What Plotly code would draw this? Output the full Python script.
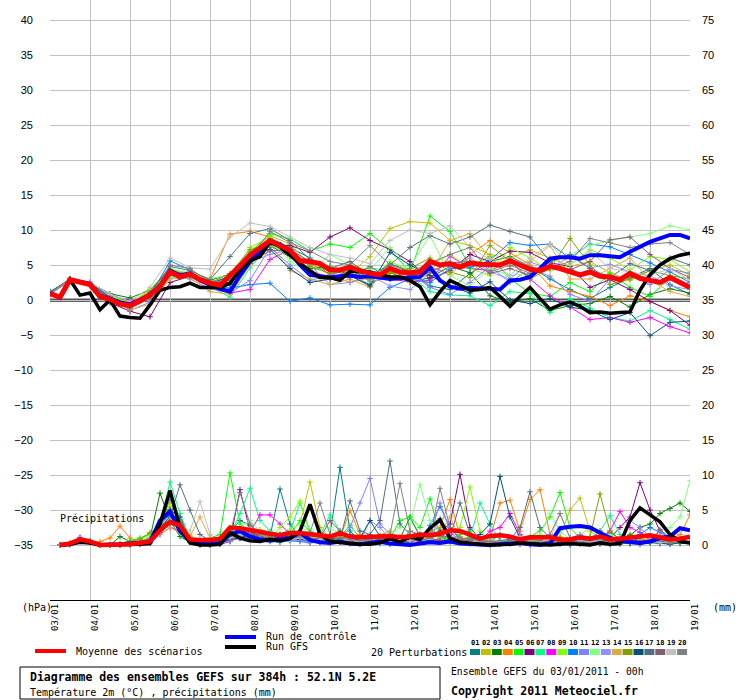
import plotly.graph_objects as go

# pas de temps (heures depuis le 03/01 00h)
hours6 = list(range(0, 385, 6))
hours12 = list(range(0, 385, 12))
hours_precip = hours6[1:]

day_labels = ["03/01", "04/01", "05/01", "06/01", "07/01", "08/01", "09/01", "10/01", "11/01",
              "12/01", "13/01", "14/01", "15/01", "16/01", "17/01", "18/01", "19/01"]

left_ticks = [-35, -30, -25, -20, -15, -10, -5, 0, 5, 10, 15, 20, 25, 30, 35, 40]
right_ticks = [0, 5, 10, 15, 20, 25, 30, 35, 40, 45, 50, 55, 60, 65, 70, 75]

# température 2m (6h)
mean_t = [0.9, 0.4, 2.9, 2.5, 2.2, 0.5, 0.1, -0.6, -0.8, -0.1, 0.7, 1.9, 4.0, 3.3, 3.7, 2.9,
          2.4, 2.1, 3.4, 4.9, 6.4, 7.4, 8.5, 7.8, 7.1, 5.6, 5.5, 5.2, 4.3, 4.3, 4.7, 4.2,
          3.8, 3.6, 4.5, 4.0, 3.9, 4.0, 5.5, 5.0, 5.2, 4.7, 5.3, 5.1, 5.0, 5.0, 5.6, 5.0,
          4.4, 4.2, 4.8, 4.5, 4.0, 3.6, 4.0, 3.4, 3.3, 2.9, 3.8, 3.1, 2.8, 2.5, 3.2, 2.4, 1.8]
ctrl_t = [1.0, 0.3, 2.9, 2.6, 2.3, 0.6, 0.2, -0.4, -0.6, 0.0, 0.8, 2.0, 4.2, 3.5, 3.8, 2.8,
          2.2, 1.6, 1.2, 3.5, 5.5, 7.0, 8.3, 8.0, 6.8, 5.0, 3.6, 3.4, 3.2, 3.4, 3.5, 3.3,
          3.4, 3.2, 3.0, 3.1, 3.2, 3.3, 4.7, 2.8, 1.9, 1.6, 1.7, 1.7, 1.6, 1.5, 2.8, 2.9,
          3.3, 4.5, 5.9, 6.1, 6.1, 5.9, 6.4, 6.4, 6.2, 6.1, 6.9, 7.6, 8.3, 8.8, 9.3, 9.3, 8.8]
gfs_t = [0.95, 0.4, 2.9, 0.7, 1.0, -1.4, 0.0, -2.3, -2.5, -2.6, -0.7, 1.4, 1.8, 1.9, 2.4, 1.8,
         1.8, 1.8, 2.4, 4.3, 5.6, 6.2, 8.3, 7.6, 6.4, 5.2, 4.2, 3.2, 3.2, 2.8, 4.1, 4.1,
         4.0, 3.6, 3.3, 3.3, 2.8, 1.9, -0.7, 1.2, 2.8, 2.1, 1.4, 1.5, 1.8, 0.5, -0.9, 0.5,
         1.8, 0.2, -1.3, -0.7, -0.3, -0.9, -1.8, -1.7, -1.9, -1.8, -1.7, 1.4, 3.6, 5.0, 5.9, 6.4, 6.7]

# perturbations (12h)
t01 = [1.0, 2.9, 2.3, 0.2, -0.9, 0.5, 4.1, 3.8, 2.5, 2.2, 5.8, 8.8, 7.5, 6.0, 3.5, 4.8, 3.0,
       5.2, 4.1, 2.0, 1.5, 3.8, 5.5, 6.2, 4.8, 3.0, 1.5, 0.2, 1.8, 3.2, 4.5, 2.2, 0.8]
t02 = [0.9, 2.8, 2.1, 0.0, -1.0, 0.8, 3.8, 3.5, 2.2, 3.0, 6.9, 9.2, 8.0, 5.0, 4.4, 3.8, 6.2,
       10.2, 11.2, 11.0, 8.5, 7.8, 6.5, 5.9, 7.2, 6.0, 4.8, 5.5, 3.9, 2.8, 4.2, 5.0, 3.5]
t03 = [1.1, 2.9, 2.4, 0.9, 0.3, 1.4, 4.4, 3.6, 2.8, 3.7, 6.0, 7.8, 6.2, 4.5, 4.8, 3.5, 2.2,
       4.0, 2.5, 3.2, 4.8, 3.9, 0.6, -0.3, 0.2, -1.5, -0.8, -0.5, 0.5, -1.0, 0.8, 1.6, 1.0]
t04 = [0.9, 3.0, 2.2, 0.3, -0.3, 1.2, 4.0, 3.9, 3.0, 9.4, 9.8, 9.0, 6.5, 5.2, 3.6, 2.5, 3.2,
       4.0, 3.2, 4.8, 3.6, 6.5, 8.5, 6.8, 5.0, 2.0, 1.2, 0.5, -0.8, 0.6, -0.2, -1.5, -2.4]
t05 = [1.0, 2.8, 2.4, 0.5, -0.4, 1.0, 3.8, 3.3, 2.0, 2.8, 6.8, 9.5, 8.7, 7.0, 8.0, 7.5, 9.5,
       7.2, 4.0, 12.0, 9.8, 4.8, 6.2, 3.0, 1.0, 0.5, 2.5, 1.2, 3.8, 1.8, 0.5, 3.2, 1.5]
t06 = [0.8, 2.9, 2.2, -0.4, -1.6, -2.4, 2.5, 3.4, 2.3, 2.5, 5.2, 7.8, 7.8, 6.8, 9.0, 10.3, 8.5,
       7.2, 5.5, 3.0, 4.2, 6.5, 5.5, 7.0, 6.8, 5.3, 4.8, 1.8, 2.9, 1.5, -0.2, -1.5, -3.6]
t07 = [1.0, 3.0, 2.0, 0.0, -0.9, 0.2, 3.2, 3.6, 1.9, 0.4, 4.6, 8.0, 6.5, 4.2, 4.8, 3.8, 4.5,
       4.3, 3.5, 1.2, 0.7, 0.6, -0.8, 1.2, 0.9, -1.8, 0.2, -1.2, -2.5, -3.0, -1.5, -2.8, -4.2]
t08 = [0.9, 2.7, 2.5, 0.8, -0.2, 0.8, 3.8, 3.6, 2.5, 1.0, 1.5, 5.8, 7.2, 4.2, 3.2, 4.0, 3.7,
       3.0, 2.6, 2.8, 6.3, 4.5, 4.2, 5.5, 3.0, 0.6, -1.0, -2.8, -2.5, -3.2, -2.5, -3.8, -4.7]
t09 = [1.2, 2.9, 2.3, 0.7, -0.5, 1.5, 4.5, 3.7, 2.7, 3.0, 7.5, 9.0, 6.2, 5.7, 4.0, 4.5, 2.8,
       5.5, 4.2, 5.0, 6.5, 4.5, 3.5, 7.5, 6.0, 4.2, 5.0, 7.2, 6.0, 4.3, 6.2, 5.8, 4.0]
t10 = [1.2, 2.9, 2.2, 0.2, -0.7, 0.5, 5.6, 4.3, 2.0, 1.7, 2.2, 2.4, -0.2, 0.3, -0.7, -0.6, -0.7,
       1.8, 3.0, 2.5, 4.5, 4.6, 5.7, 8.2, 7.8, 8.0, 6.0, 8.0, 7.6, 6.5, 5.3, 4.0, 2.5]
t11 = [1.0, 3.0, 2.3, 0.4, -1.5, -0.3, 3.5, 3.0, 1.6, 1.0, 2.8, 7.5, 5.0, 2.8, 3.5, 4.5, 2.6,
       3.2, 3.8, 1.8, 0.8, 2.5, 4.8, 2.5, 4.5, 3.4, 0.8, -0.2, 3.0, 3.6, 2.2, 4.4, 3.8]
t12 = [0.9, 2.8, 2.0, 0.6, -1.2, 0.3, 4.2, 4.0, 3.1, 3.5, 6.0, 8.5, 5.5, 4.0, 6.5, 5.0, 4.3,
       7.5, 4.8, 9.2, 3.5, 2.0, 4.5, 3.5, 3.8, 5.5, 6.5, 7.8, 8.5, 9.0, 9.5, 10.6, 10.0]
t13 = [1.0, 2.9, 2.6, 0.5, -0.8, 0.6, 3.6, 3.9, 2.6, 3.2, 5.4, 6.5, 7.2, 5.0, 2.2, 2.5, 3.5,
       2.0, 1.5, 3.8, 4.6, 6.0, 4.0, 3.0, 5.4, 4.5, 6.2, 4.6, 5.1, 4.0, 3.5, 2.0, 1.5]
t14 = [0.8, 2.8, 2.2, 0.0, -1.4, -0.6, 3.0, 3.2, 1.2, 0.8, 5.0, 8.0, 4.2, 3.0, 2.2, 3.0, 1.8,
       4.8, 2.5, 3.8, 8.5, 9.5, 6.0, 4.8, 5.5, 7.8, 3.0, 3.0, 4.5, 6.0, 2.8, 1.2, 0.5]
t15 = [1.0, 2.9, 2.3, 0.3, -1.0, 0.9, 4.3, 3.4, 2.4, 3.8, 7.2, 8.0, 7.0, 4.8, 3.8, 4.2, 3.0,
       3.8, 4.5, 6.0, 4.0, 3.2, 7.8, 5.5, 3.0, 4.5, 8.8, 5.0, 2.2, 3.0, 4.2, 3.5, 3.0]
t16 = [1.1, 3.0, 2.4, 0.4, -0.6, 0.7, 3.9, 3.5, 2.2, 3.5, 6.5, 7.2, 4.5, 2.5, 3.0, 3.5, 2.0,
       6.8, 5.0, 3.5, 2.0, 1.0, 2.6, 0.0, -0.5, 0.2, -1.0, -1.5, -2.8, -1.8, -5.1, -3.2, -3.0]
t17 = [1.0, 2.9, 2.2, 0.2, -0.9, 1.1, 4.8, 4.2, 2.9, 6.2, 9.5, 10.2, 8.5, 5.8, 4.5, 5.5, 3.5,
       5.0, 7.5, 9.2, 8.0, 9.0, 10.7, 9.8, 9.0, 5.5, 6.5, 4.5, 3.2, 5.2, 4.2, 6.0, 5.0]
t18 = [0.9, 2.8, 2.1, 0.1, -1.1, 0.4, 3.9, 3.7, 2.6, 2.4, 5.6, 7.0, 7.2, 5.5, 4.6, 3.2, 4.8,
       3.0, 3.5, 4.0, 5.3, 5.5, 3.8, 4.5, 3.5, 4.8, 4.3, 5.5, 8.6, 9.0, 6.5, 4.5, 3.2]
t19 = [1.0, 2.9, 2.5, 0.8, -0.2, 1.8, 6.0, 4.6, 4.4, 9.0, 11.0, 10.5, 9.0, 7.5, 6.5, 6.0, 5.2,
       8.5, 10.0, 9.5, 10.6, 7.5, 5.8, 3.5, 6.0, 8.0, 5.0, 7.0, 4.5, 4.0, 3.5, 4.5, 2.8]
t20 = [1.0, 3.0, 2.3, 0.3, -1.2, 0.2, 5.0, 4.5, 2.5, 2.8, 6.0, 9.8, 8.2, 7.0, 5.5, 5.0, 7.8,
       5.0, 4.0, 5.2, 6.5, 7.5, 4.0, 5.0, 3.8, 4.5, 5.5, 8.8, 8.2, 7.5, 8.0, 8.2, 6.5]

# précipitations (mm, 6h, de 6h à 384h)
mean_p = [0.0, 0.2, 0.8, 0.5, 0.0, 0.0, 0.1, 0.1, 0.3, 0.5, 2.1, 3.3, 2.8, 0.8, 0.7, 0.7,
          0.9, 2.5, 2.4, 2.1, 1.9, 1.6, 1.4, 1.7, 1.7, 1.5, 1.4, 1.2, 1.7, 1.2, 1.1, 1.2,
          1.3, 1.3, 1.1, 1.2, 1.5, 1.4, 1.6, 2.1, 2.0, 1.4, 0.9, 1.3, 1.4, 1.2, 0.8, 1.1,
          1.1, 1.1, 0.8, 0.8, 1.1, 0.9, 1.2, 0.8, 0.9, 1.1, 1.3, 1.4, 1.1, 0.8, 0.9, 1.2]
ctrl_p = [0.0, 0.1, 0.6, 0.4, 0.0, 0.0, 0.1, 0.2, 0.3, 0.4, 3.5, 4.8, 2.0, 0.5, 0.2, 0.1,
          0.3, 1.5, 2.0, 1.2, 0.8, 0.6, 0.9, 1.0, 1.8, 0.7, 0.4, 0.3, 0.5, 0.2, 0.1, 0.3,
          0.5, 0.2, 0.1, 0.0, 0.2, 0.4, 0.3, 0.5, 0.2, 0.1, 0.0, 0.0, 0.1, 0.2, 0.3, 0.1,
          0.0, 0.2, 2.4, 2.6, 2.7, 2.5, 1.8, 1.0, 0.6, 0.4, 0.3, 0.5, 1.0, 1.2, 2.4, 2.1]
gfs_p = [0.0, 0.1, 0.4, 0.3, 0.0, 0.0, 0.0, 0.1, 0.1, 0.2, 3.0, 7.8, 2.5, 0.3, 0.0, 0.0,
         0.1, 1.8, 1.0, 0.6, 0.5, 0.8, 0.6, 0.9, 2.0, 5.8, 1.5, 0.5, 0.3, 0.2, 0.1, 0.1,
         0.3, 0.9, 0.4, 1.2, 0.8, 2.4, 3.6, 1.0, 0.4, 0.2, 0.1, 0.0, 0.0, 0.1, 0.3, 0.2,
         0.0, 0.0, 0.1, 0.2, 0.1, 0.0, 0.3, 0.1, 0.2, 3.5, 5.3, 4.3, 3.3, 1.5, 0.5, 0.3]

p01 = [0, 0.2, 0.9, 0.6, 0, 0, 0, 0.1, 0.2, 0.5, 2.5, 4.0, 3.2, 0.6, 0.3, 0.4,
       0.5, 2.0, 3.5, 2.8, 1.5, 1.2, 8.0, 3.0, 1.0, 1.2, 0.8, 1.5, 11.1, 2.0, 0.6, 0.8,
       1.2, 0.8, 0.5, 0.3, 1.0, 2.0, 1.2, 0.6, 0.4, 0.2, 0.3, 0.5, 1.5, 0.8, 0.4, 0.2,
       0.5, 0.8, 0.3, 0.2, 0.6, 0.4, 0.9, 0.2, 0.1, 0.5, 1.0, 0.4, 0.2, 0.3, 0.8, 0.5]
p02 = [0, 0.1, 0.7, 0.4, 0, 0, 0.1, 0.3, 0.8, 1.5, 3.0, 5.5, 2.0, 0.5, 0.2, 0.3,
       0.6, 1.8, 2.5, 2.0, 1.4, 1.0, 1.5, 2.2, 3.0, 9.0, 2.5, 1.0, 0.8, 0.5, 0.4, 0.9,
       1.5, 2.0, 0.8, 0.6, 0.5, 1.8, 0.9, 0.4, 0.8, 1.2, 0.6, 0.2, 0.4, 0.3, 0.8, 1.0,
       0.6, 0.4, 1.2, 5.0, 6.7, 2.0, 1.0, 0.6, 0.3, 1.5, 1.0, 0.5, 0.8, 0.4, 0.2, 0.5]
p03 = [0, 0.2, 0.8, 0.5, 0.1, 0, 1.2, 0.5, 0.6, 1.0, 7.4, 3.5, 1.2, 0.4, 0.1, 0.1,
       0.3, 1.2, 2.0, 1.8, 1.0, 0.9, 1.1, 2.0, 1.5, 1.0, 1.8, 0.6, 0.8, 1.4, 0.6, 0.4,
       0.5, 0.3, 0.9, 4.0, 1.2, 2.2, 1.5, 0.8, 0.6, 1.0, 0.4, 0.8, 0.5, 0.2, 0.6, 0.3,
       0.2, 0.4, 0.6, 0.3, 0.8, 0.5, 1.2, 1.8, 0.9, 1.4, 2.5, 3.0, 4.5, 5.2, 6.0, 4.8]
p04 = [0, 0.1, 0.6, 0.3, 0.5, 1.0, 2.7, 1.0, 0.4, 0.6, 1.8, 3.2, 2.4, 0.6, 0.3, 0.2,
       0.2, 0.8, 1.5, 2.5, 2.2, 1.8, 1.4, 1.2, 1.6, 1.0, 1.5, 1.2, 1.0, 4.9, 1.5, 0.6,
       0.4, 0.8, 1.2, 0.6, 1.5, 2.0, 2.5, 6.5, 1.2, 0.5, 0.3, 0.9, 6.0, 6.4, 2.0, 6.5,
       7.9, 1.5, 0.5, 0.3, 0.6, 0.2, 0.5, 0.4, 0.8, 0.3, 0.6, 1.0, 0.5, 0.8, 1.5, 4.3]
p05 = [0, 0.2, 1.0, 0.6, 0, 0, 0.2, 0.6, 1.0, 1.6, 2.0, 4.5, 2.8, 0.8, 0.5, 1.0,
       1.5, 10.3, 3.0, 2.0, 1.5, 1.2, 1.0, 1.5, 3.5, 1.8, 1.0, 0.6, 1.2, 2.8, 1.0, 0.4,
       0.6, 1.0, 3.5, 4.0, 2.5, 6.6, 1.5, 0.8, 1.5, 2.0, 0.5, 0.3, 0.4, 0.6, 0.8, 1.2,
       2.0, 4.0, 7.5, 2.5, 1.0, 0.5, 0.3, 0.6, 0.4, 0.2, 0.5, 0.3, 0.4, 0.8, 0.5, 0.6]
p06 = [0, 0.1, 0.8, 0.5, 0, 0, 0, 0.2, 0.3, 0.5, 2.8, 4.5, 3.5, 0.5, 0, 0,
       0.1, 0.5, 7.9, 2.0, 1.2, 0.8, 0.6, 1.0, 0.8, 0.5, 0.4, 0.3, 0.5, 0.2, 0.1, 0.3,
       0.5, 0.8, 1.0, 0.6, 1.2, 1.5, 2.0, 3.0, 10.1, 2.5, 0.8, 0.4, 0.6, 0.3, 0.2, 0.4,
       0.3, 0.5, 0.8, 0.4, 0.6, 0.3, 0.2, 1.0, 2.5, 4.0, 8.9, 5.0, 2.0, 0.8, 0.4, 0.3]
p07 = [0, 0.2, 0.9, 0.6, 0, 0, 0, 0.1, 0.2, 0.4, 3.0, 9.0, 4.5, 1.0, 0.2, 0.1,
       0.3, 1.5, 4.5, 8.1, 3.5, 2.0, 1.5, 1.8, 6.0, 2.0, 1.4, 4.3, 2.0, 1.0, 0.8, 0.5,
       0.6, 0.4, 0.8, 1.5, 0.6, 0.8, 0.5, 0.6, 0.4, 1.0, 6.0, 3.0, 0.5, 0.8, 0.4, 0.3,
       0.5, 0.6, 0.4, 0.8, 0.5, 1.0, 2.0, 4.2, 1.5, 0.8, 0.4, 0.3, 0.6, 0.4, 0.2, 0.5]
p08 = [0, 0.2, 1.1, 0.6, 0, 0, 0, 0.1, 0.1, 0.3, 1.5, 2.5, 2.0, 0.6, 0.2, 0.1,
       0.2, 0.6, 1.0, 1.8, 4.3, 4.3, 3.0, 1.5, 1.0, 0.8, 0.6, 0.5, 0.4, 0.6, 0.3, 0.5,
       0.4, 0.3, 0.6, 0.8, 0.5, 0.6, 0.9, 1.5, 0.6, 0.8, 0.5, 2.0, 2.5, 4.5, 1.5, 0.5,
       0.2, 0.6, 0.4, 0.3, 0.8, 0.5, 0.6, 2.0, 4.8, 2.5, 1.8, 1.0, 0.5, 0.4, 0.6, 0.3]
p09 = [0, 0.1, 0.7, 0.4, 0, 0, 0, 0.3, 0.5, 1.0, 2.2, 6.0, 3.0, 1.5, 0.5, 0.3,
       0.5, 2.5, 1.8, 1.5, 1.2, 1.0, 2.5, 4.0, 6.3, 1.5, 0.8, 1.0, 0.6, 0.5, 0.8, 0.4,
       0.3, 0.6, 0.8, 1.2, 0.8, 1.6, 1.0, 0.5, 2.5, 8.3, 2.0, 0.8, 0.4, 0.3, 0.5, 0.6,
       0.8, 1.2, 0.6, 0.4, 1.5, 2.5, 1.8, 0.8, 0.5, 0.3, 0.4, 0.6, 0.3, 0.5, 0.8, 1.0]
p10 = [0, 0.2, 1.0, 0.5, 0, 0, 0, 0, 0.1, 0.3, 2.2, 4.0, 2.5, 0.8, 0.6, 0.3,
       0.2, 0.8, 1.5, 1.2, 0.8, 0.5, 0.4, 0.6, 0.5, 0.3, 1.0, 0.6, 0.5, 1.5, 0.6, 0.3,
       0.2, 0.1, 0.3, 0.5, 0.8, 2.8, 5.5, 2.5, 0.8, 0.2, 0.1, 0.0, 0.1, 0.2, 0.1, 0.0,
       0.1, 0.3, 0.1, 0.0, 0.1, 0.2, 0.5, 1.0, 0.6, 0.3, 1.5, 2.5, 1.8, 0.8, 0.3, 0.5]
p11 = [0, 0.1, 0.6, 0.4, 0, 0, 0, 0.1, 0.2, 0.5, 2.5, 4.8, 2.2, 0.5, 0.3, 0.2,
       0.4, 0.6, 0.9, 1.4, 1.0, 0.8, 0.5, 0.7, 0.6, 0.4, 0.9, 1.2, 0.8, 2.5, 6.0, 9.5,
       3.0, 1.5, 1.0, 0.6, 0.8, 1.2, 6.0, 2.0, 0.6, 0.4, 0.3, 0.5, 0.2, 0.4, 0.2, 0.1,
       0.3, 0.5, 0.6, 1.0, 1.5, 0.8, 1.2, 0.5, 0.8, 3.5, 2.5, 1.2, 0.6, 0.8, 0.5, 0.3]
p12 = [0, 0.2, 0.8, 0.5, 0, 0.1, 0.2, 0.3, 0.6, 1.2, 2.0, 3.8, 3.0, 1.0, 0.5, 0.6,
       0.8, 1.5, 2.5, 3.5, 2.0, 1.5, 1.2, 2.2, 3.0, 1.2, 1.0, 2.5, 1.5, 0.6, 1.0, 0.5,
       0.8, 1.5, 2.5, 3.0, 8.6, 3.5, 1.5, 1.0, 0.8, 0.6, 0.5, 1.0, 0.4, 0.3, 0.6, 0.8,
       1.5, 4.5, 2.0, 0.8, 0.5, 0.4, 0.6, 1.5, 0.8, 0.5, 0.3, 0.8, 1.0, 2.5, 4.0, 9.2]
p13 = [0, 0.1, 0.9, 0.5, 0, 0, 0, 0.1, 0.2, 0.4, 1.5, 3.2, 2.8, 0.8, 0.3, 0.2,
       0.3, 0.5, 1.2, 1.0, 0.8, 0.6, 0.6, 0.8, 0.7, 0.5, 0.6, 0.5, 0.4, 0.8, 0.5, 3.5,
       2.5, 0.8, 0.5, 1.5, 0.8, 1.0, 3.8, 1.2, 0.5, 0.3, 0.2, 0.4, 0.3, 0.2, 0.5, 0.3,
       0.2, 0.4, 0.3, 0.5, 0.6, 0.8, 0.5, 0.3, 1.2, 0.8, 0.5, 0.6, 2.0, 0.8, 0.5, 0.4]
p14 = [0, 0.1, 0.5, 0.3, 0, 0, 0.2, 0.4, 0.6, 0.9, 1.5, 2.5, 1.8, 1.2, 4.0, 1.0,
       0.4, 0.9, 1.2, 2.5, 1.5, 1.2, 1.0, 0.8, 1.0, 0.6, 0.5, 0.8, 1.2, 0.6, 0.4, 0.3,
       0.5, 0.8, 0.6, 2.0, 1.2, 0.9, 1.5, 4.0, 1.0, 0.6, 0.4, 0.3, 0.5, 0.4, 0.3, 0.5,
       0.8, 0.6, 0.4, 0.3, 0.5, 0.6, 0.4, 0.5, 0.3, 0.6, 0.5, 0.8, 0.4, 0.3, 0.6, 0.4]
p15 = [0, 0.2, 0.8, 0.5, 0, 0, 0.1, 0.5, 0.8, 1.8, 2.5, 3.5, 2.2, 0.6, 0.3, 0.4,
       0.6, 1.2, 2.0, 2.2, 1.6, 1.4, 1.0, 1.2, 1.5, 0.8, 0.6, 0.9, 1.0, 1.2, 0.5, 0.6,
       0.8, 0.5, 0.6, 1.0, 1.5, 0.8, 0.6, 0.8, 0.5, 0.4, 0.6, 0.8, 0.5, 0.3, 0.4, 0.6,
       0.5, 0.8, 1.0, 0.6, 0.5, 1.2, 7.3, 2.0, 0.8, 0.5, 0.6, 0.4, 0.3, 0.5, 0.6, 0.4]
p16 = [0, 0.1, 0.7, 0.4, 0, 0, 0, 0.2, 0.3, 0.6, 3.0, 5.0, 4.0, 0.8, 0.4, 0.2,
       0.3, 0.8, 1.0, 1.5, 1.2, 0.9, 1.5, 1.0, 0.8, 0.6, 0.5, 0.8, 0.6, 0.4, 1.0, 3.5,
       1.2, 0.6, 0.4, 0.8, 1.0, 0.6, 0.5, 0.8, 0.4, 0.6, 1.5, 3.0, 9.8, 4.0, 1.0, 0.5,
       0.3, 0.2, 0.4, 0.2, 0.3, 0.5, 0.2, 0.1, 0.3, 0.2, 0.1, 0.4, 0.2, 0.1, 0.3, 0.2]
p17 = [0, 0.2, 0.9, 0.6, 0, 0, 0, 0.2, 0.4, 0.8, 2.5, 4.0, 8.6, 5.0, 1.5, 0.6,
       0.5, 1.0, 2.0, 1.8, 1.2, 1.0, 0.8, 1.2, 1.0, 0.8, 0.6, 1.0, 0.8, 6.3, 2.0, 1.5,
       3.5, 12.0, 3.0, 1.5, 0.8, 1.0, 1.5, 1.0, 6.0, 1.5, 0.8, 0.5, 0.6, 0.8, 2.5, 7.6,
       2.5, 1.0, 0.5, 0.4, 0.6, 0.3, 0.5, 0.8, 0.4, 0.6, 0.5, 0.3, 0.4, 0.6, 0.8, 0.5]
p18 = [0, 0.1, 0.8, 0.5, 0, 0, 0, 0.1, 0.3, 0.6, 1.8, 3.0, 2.5, 0.8, 0.3, 0.2,
       0.4, 0.9, 1.5, 1.6, 1.2, 1.0, 0.8, 1.0, 1.2, 0.8, 1.0, 3.5, 2.0, 0.8, 0.6, 1.0,
       0.8, 1.2, 0.6, 0.5, 0.8, 1.0, 0.6, 0.5, 0.8, 0.6, 0.4, 0.5, 0.3, 0.6, 0.4, 0.8,
       0.6, 0.4, 0.8, 0.5, 0.6, 0.4, 0.3, 0.5, 0.8, 1.2, 0.6, 0.4, 2.2, 1.0, 0.5, 0.4]
p19 = [0, 0.2, 0.9, 0.7, 0, 0, 0, 0.2, 0.4, 0.8, 2.0, 3.5, 3.0, 2.0, 6.2, 1.5,
       0.5, 1.0, 1.5, 2.0, 1.5, 1.2, 1.0, 0.8, 1.0, 0.6, 0.8, 0.5, 0.6, 0.8, 0.5, 0.4,
       0.6, 0.5, 0.8, 0.6, 1.0, 0.8, 3.5, 1.2, 0.5, 0.4, 0.6, 0.8, 0.5, 0.4, 1.2, 0.6,
       0.5, 0.8, 4.5, 1.0, 0.6, 0.5, 0.4, 0.3, 0.6, 0.5, 0.4, 0.6, 0.3, 0.5, 0.4, 0.6]
p20 = [0, 0.1, 0.8, 0.5, 0, 0, 0, 0.3, 0.5, 0.9, 2.8, 6.5, 3.5, 1.0, 0.5, 0.4,
       0.6, 1.5, 7.5, 3.0, 1.5, 1.2, 1.0, 1.5, 1.2, 1.8, 6.0, 1.5, 1.0, 0.8, 0.6, 0.8,
       1.0, 1.5, 8.8, 2.0, 1.5, 1.0, 8.1, 2.5, 1.0, 0.8, 0.6, 0.5, 0.4, 0.6, 0.8, 0.5,
       0.6, 1.5, 4.5, 1.0, 0.8, 0.6, 2.0, 1.0, 0.5, 0.4, 0.6, 0.5, 0.8, 0.4, 0.3, 0.5]

pert_colors = ["#008080", "#c0c000", "#008000", "#ff8000", "#00ff00", "#800080", "#00ff80",
               "#ff00ff", "#80ff00", "#0080ff", "#8080ff", "#80ff80", "#9090ff", "#e0a840",
               "#80a000", "#005080", "#507080", "#806070", "#c0c0c0", "#808080"]
pert_names = ["01", "02", "03", "04", "05", "06", "07", "08", "09", "10",
              "11", "12", "13", "14", "15", "16", "17", "18", "19", "20"]

pert_t = [t01, t02, t03, t04, t05, t06, t07, t08, t09, t10,
          t11, t12, t13, t14, t15, t16, t17, t18, t19, t20]
pert_p = [p01, p02, p03, p04, p05, p06, p07, p08, p09, p10,
          p11, p12, p13, p14, p15, p16, p17, p18, p19, p20]

MONO = "DejaVu Sans Mono"
SANS = "Liberation Sans"


def px(x):
    # pixel -> paper (x)
    return (x - 50) / 640


def py(y):
    # pixel -> paper (y)
    return (600 - y) / 600


fig = go.Figure()

# perturbations : température puis précipitations (axe de droite)
for name, col, tv, pv in zip(pert_names, pert_colors, pert_t, pert_p):
    mk = dict(symbol="cross-thin", size=4, line=dict(color=col, width=1))
    fig.add_trace(go.Scatter(x=hours12, y=tv, mode="lines+markers", line=dict(color=col, width=1),
                             marker=mk, name=name, hoverinfo="skip"))
    fig.add_trace(go.Scatter(x=hours_precip, y=pv, mode="lines+markers", line=dict(color=col, width=1),
                             marker=mk, name=name, yaxis="y2", hoverinfo="skip"))

fig.add_trace(go.Scatter(x=hours6, y=ctrl_t, mode="lines", line=dict(color="#0000ff", width=4)))
fig.add_trace(go.Scatter(x=hours_precip, y=ctrl_p, mode="lines", line=dict(color="#0000ff", width=4), yaxis="y2"))
fig.add_trace(go.Scatter(x=hours6, y=gfs_t, mode="lines", line=dict(color="#000000", width=3.5)))
fig.add_trace(go.Scatter(x=hours_precip, y=gfs_p, mode="lines", line=dict(color="#000000", width=3.5), yaxis="y2"))
fig.add_trace(go.Scatter(x=hours6, y=mean_t, mode="lines", line=dict(color="#ff0000", width=5)))
fig.add_trace(go.Scatter(x=hours_precip, y=mean_p, mode="lines", line=dict(color="#ff0000", width=4.5), yaxis="y2"))

half = 300 / 7
fig.update_layout(
    width=740, height=700,
    margin=dict(l=50, r=50, t=0, b=100, pad=0),
    paper_bgcolor="white", plot_bgcolor="white",
    showlegend=False,
    xaxis=dict(range=[0, 384], tickvals=list(range(0, 385, 24)), showticklabels=False,
               showgrid=True, gridcolor="#c0c0c0", gridwidth=1, zeroline=False,
               showline=True, linecolor="black", linewidth=1, ticks=""),
    yaxis=dict(range=[-half, half], tickvals=left_ticks, showgrid=True, gridcolor="#c0c0c0",
               gridwidth=1, zeroline=False, ticks="", ticklabelstandoff=16,
               tickfont=dict(family=SANS, size=11, color="black")),
    yaxis2=dict(range=[-half + 35, half + 35], tickvals=right_ticks, overlaying="y", side="right",
                showgrid=False, zeroline=False, ticks="", ticklabelstandoff=11,
                tickfont=dict(family=SANS, size=11, color="black")),
)

# ligne du zéro (double trait noir)
for yz in (0.12, -0.16):
    fig.add_shape(type="line", xref="x", yref="y", x0=0, x1=384, y0=yz, y1=yz,
                  line=dict(color="black", width=1), layer="below")

ann = []
for i, lab in enumerate(day_labels):
    ann.append(dict(x=px(50 + i * 40 + 4.5), y=0, xref="paper", yref="paper", text=lab, showarrow=False,
                    textangle=-90, xanchor="center", yanchor="top", yshift=-2,
                    font=dict(family=MONO, size=9, color="black")))


def label(x, y, text, size=10, anchor="left"):
    ann.append(dict(x=px(x), y=py(y), xref="paper", yref="paper", text=text, showarrow=False,
                    xanchor=anchor, yanchor="middle", font=dict(family=MONO, size=size, color="black")))


label(20, 607, "(hPa)")
label(711, 607, "(mm)")
label(58, 518, "Précipitations")
label(74, 651, "Moyenne des scénarios")
label(264, 636, "Run de contrôle")
label(264, 646, "Run GFS")
label(369, 652, "20 Perturbations")
label(28, 677, "<b>Diagramme des ensembles GEFS sur 384h : 52.1N 5.2E</b>", size=11.5)
label(28, 692, "Température 2m (°C) , précipitations (mm)")
label(449, 671, "Ensemble GEFS du 03/01/2011 - 00h", size=9.7)
label(449, 691, "<b>Copyright 2011 Meteociel.fr</b>", size=11.5)

shapes = [
    dict(type="line", xref="paper", yref="paper", x0=px(35), x1=px(66), y0=py(651), y1=py(651),
         line=dict(color="#ff0000", width=4)),
    dict(type="line", xref="paper", yref="paper", x0=px(225), x1=px(256), y0=py(637), y1=py(637),
         line=dict(color="#0000ff", width=4)),
    dict(type="line", xref="paper", yref="paper", x0=px(225), x1=px(256), y0=py(647), y1=py(647),
         line=dict(color="#000000", width=4)),
    dict(type="rect", xref="paper", yref="paper", x0=px(20), x1=px(440), y0=py(667), y1=py(699),
         line=dict(color="black", width=1)),
]
for i, (name, col) in enumerate(zip(pert_names, pert_colors)):
    x0 = 470 + i * 10.9
    shapes.append(dict(type="rect", xref="paper", yref="paper", x0=px(x0), x1=px(x0 + 10), y0=py(655),
                       y1=py(649), fillcolor=col, line=dict(width=0)))
    ann.append(dict(x=px(x0 + 5), y=py(643), xref="paper", yref="paper", text="<b>" + name + "</b>",
                    showarrow=False, xanchor="center", yanchor="middle",
                    font=dict(family=MONO, size=7, color="black")))

fig.update_layout(annotations=ann)
for s in shapes:
    fig.add_shape(**s)

# la page est photographiée à 740x700 : pas de marge autour du graphique
fig.write_html("out.html", config={"displayModeBar": False},
               post_script="document.body.style.margin='0';document.body.style.overflow='hidden';")
